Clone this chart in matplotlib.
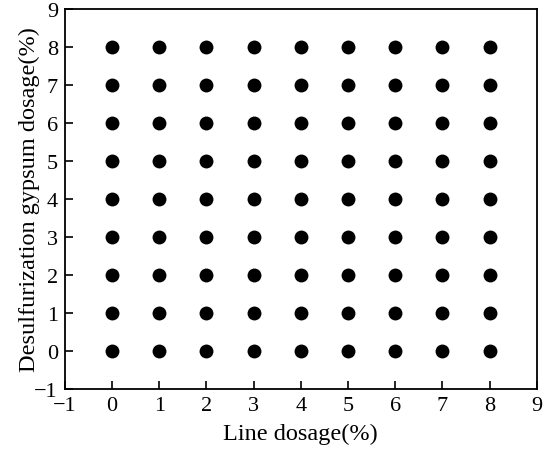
import numpy as np
import matplotlib
matplotlib.use('Agg')
import matplotlib.pyplot as plt

plt.rcParams['font.family'] = ['Liberation Serif', 'DejaVu Serif']

# 数据：石灰掺量 x 脱硫石膏掺量 (%)
lime_dosage = [0, 1, 2, 3, 4, 5, 6, 7, 8]
gypsum_dosage = [0, 1, 2, 3, 4, 5, 6, 7, 8]
ticks = [-1, 0, 1, 2, 3, 4, 5, 6, 7, 8, 9]

xx, yy = np.meshgrid(lime_dosage, gypsum_dosage)

fig = plt.figure(figsize=(5.5, 4.56), dpi=100)
ax = fig.add_axes([0.118, 0.145, 0.858, 0.834])
ax.scatter(xx.ravel(), yy.ravel(), s=100, color='black', linewidths=0)

ax.set_xlim(-1, 9)
ax.set_ylim(-1, 9)
ax.set_xticks(ticks)
ax.set_yticks(ticks)
ax.set_xticklabels(['\u22121' if t == -1 else str(t) for t in ticks])
ax.set_yticklabels(['\u22121' if t == -1 else str(t) for t in ticks])
ax.tick_params(direction='in', length=6, width=1.2, labelsize=16, top=False, right=False, pad=5)
for sp in ax.spines.values():
    sp.set_linewidth(1.3)

ax.set_xlabel('Line dosage(%)', fontsize=17.5, labelpad=6)
ax.set_ylabel('Desulfurization gypsum dosage(%)', fontsize=17.5, labelpad=-4)

plt.savefig('out.png', dpi=100)
